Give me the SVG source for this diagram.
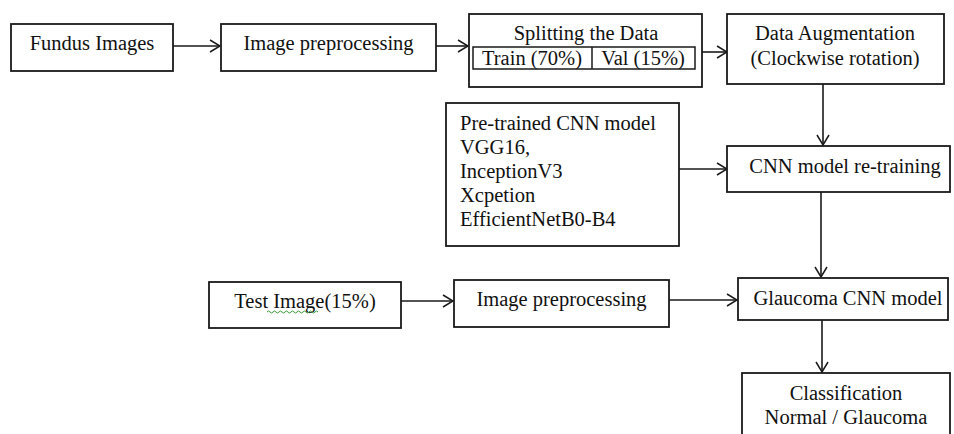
<svg xmlns="http://www.w3.org/2000/svg" width="954" height="434" viewBox="0 0 954 434">
  <defs>
    <marker id="arrow" viewBox="0 0 12 14" refX="11" refY="7" markerWidth="12" markerHeight="14" markerUnits="userSpaceOnUse" orient="auto">
      <path d="M1,1 L11,7 L1,13" fill="none" stroke="#1a1a1a" stroke-width="1.5"/>
    </marker>
  </defs>
  <style>
    .box { fill: #ffffff; stroke: #1a1a1a; stroke-width: 1.8; }
    .cell { fill: none; stroke: #1a1a1a; stroke-width: 1.5; }
    .lbl { font-family: "Liberation Serif", "Times New Roman", serif; font-size: 20.5px; fill: #111111; }
    .mid { text-anchor: middle; }
    .edge { fill: none; stroke: #1a1a1a; stroke-width: 1.6; marker-end: url(#arrow); }
  </style>
  <rect width="954" height="434" fill="#ffffff"/>

  <g id="connectors">
    <line class="edge" x1="173" y1="46" x2="220" y2="46"/>
    <line class="edge" x1="436" y1="46" x2="468" y2="46"/>
    <line class="edge" x1="702" y1="52" x2="727" y2="52"/>
    <line class="edge" x1="823" y1="84" x2="823" y2="145"/>
    <line class="edge" x1="679" y1="169" x2="727" y2="169"/>
    <line class="edge" x1="821" y1="192" x2="821" y2="277"/>
    <line class="edge" x1="401" y1="301" x2="453" y2="301"/>
    <line class="edge" x1="669" y1="300" x2="737" y2="300"/>
    <line class="edge" x1="822" y1="320" x2="822" y2="372"/>
  </g>

  <g id="fundus-images">
    <rect class="box" x="11" y="24" width="162" height="47"/>
    <text class="lbl mid" x="92" y="50">Fundus Images</text>
  </g>

  <g id="image-preprocessing">
    <rect class="box" x="221" y="24" width="215" height="47"/>
    <text class="lbl mid" x="328.5" y="50">Image preprocessing</text>
  </g>

  <g id="splitting-data">
    <rect class="box" x="469" y="14" width="233" height="73"/>
    <text class="lbl mid" x="586" y="40">Splitting the Data</text>
    <rect class="cell" x="473" y="47" width="222" height="22"/>
    <line class="cell" x1="592" y1="47" x2="592" y2="69"/>
    <text class="lbl mid" x="532" y="65">Train (70%)</text>
    <text class="lbl mid" x="643" y="65">Val (15%)</text>
  </g>

  <g id="data-augmentation">
    <rect class="box" x="727" y="14" width="217" height="70"/>
    <text class="lbl mid" x="835" y="40">Data Augmentation</text>
    <text class="lbl mid" x="835" y="65">(Clockwise rotation)</text>
  </g>

  <g id="pretrained-models">
    <rect class="box" x="446" y="103" width="233" height="143"/>
    <text class="lbl" x="460" y="130">Pre-trained CNN model</text>
    <text class="lbl" x="460" y="154">VGG16,</text>
    <text class="lbl" x="460" y="178">InceptionV3</text>
    <text class="lbl" x="460" y="202">Xcpetion</text>
    <text class="lbl" x="460" y="226">EfficientNetB0-B4</text>
  </g>

  <g id="cnn-retraining">
    <rect class="box" x="727" y="146" width="223" height="46"/>
    <text class="lbl mid" x="845" y="173">CNN model re-training</text>
  </g>

  <g id="test-image">
    <rect class="box" x="209" y="282" width="192" height="46"/>
    <text class="lbl mid" x="305" y="308">Test Image(15%)</text>
    <!-- spell-check squiggle under "Image" -->
    <path d="M267,312 q1.5,-2 3,0 t3,0 t3,0 t3,0 t3,0 t3,0 t3,0 t3,0 t3,0 t3,0 t3,0 t3,0 t3,0 t3,0 t3,0 t3,0 t3,0" fill="none" stroke="#3a9a3a" stroke-width="1"/>
  </g>

  <g id="image-preprocessing-test">
    <rect class="box" x="454" y="280" width="215" height="47"/>
    <text class="lbl mid" x="561.5" y="306">Image preprocessing</text>
  </g>

  <g id="glaucoma-cnn-model">
    <rect class="box" x="738" y="278" width="210" height="42"/>
    <text class="lbl mid" x="848" y="305">Glaucoma CNN model</text>
  </g>

  <g id="classification">
    <rect class="box" x="742" y="373" width="208" height="70"/>
    <text class="lbl mid" x="846" y="400">Classification</text>
    <text class="lbl mid" x="846" y="424">Normal / Glaucoma</text>
  </g>
</svg>
